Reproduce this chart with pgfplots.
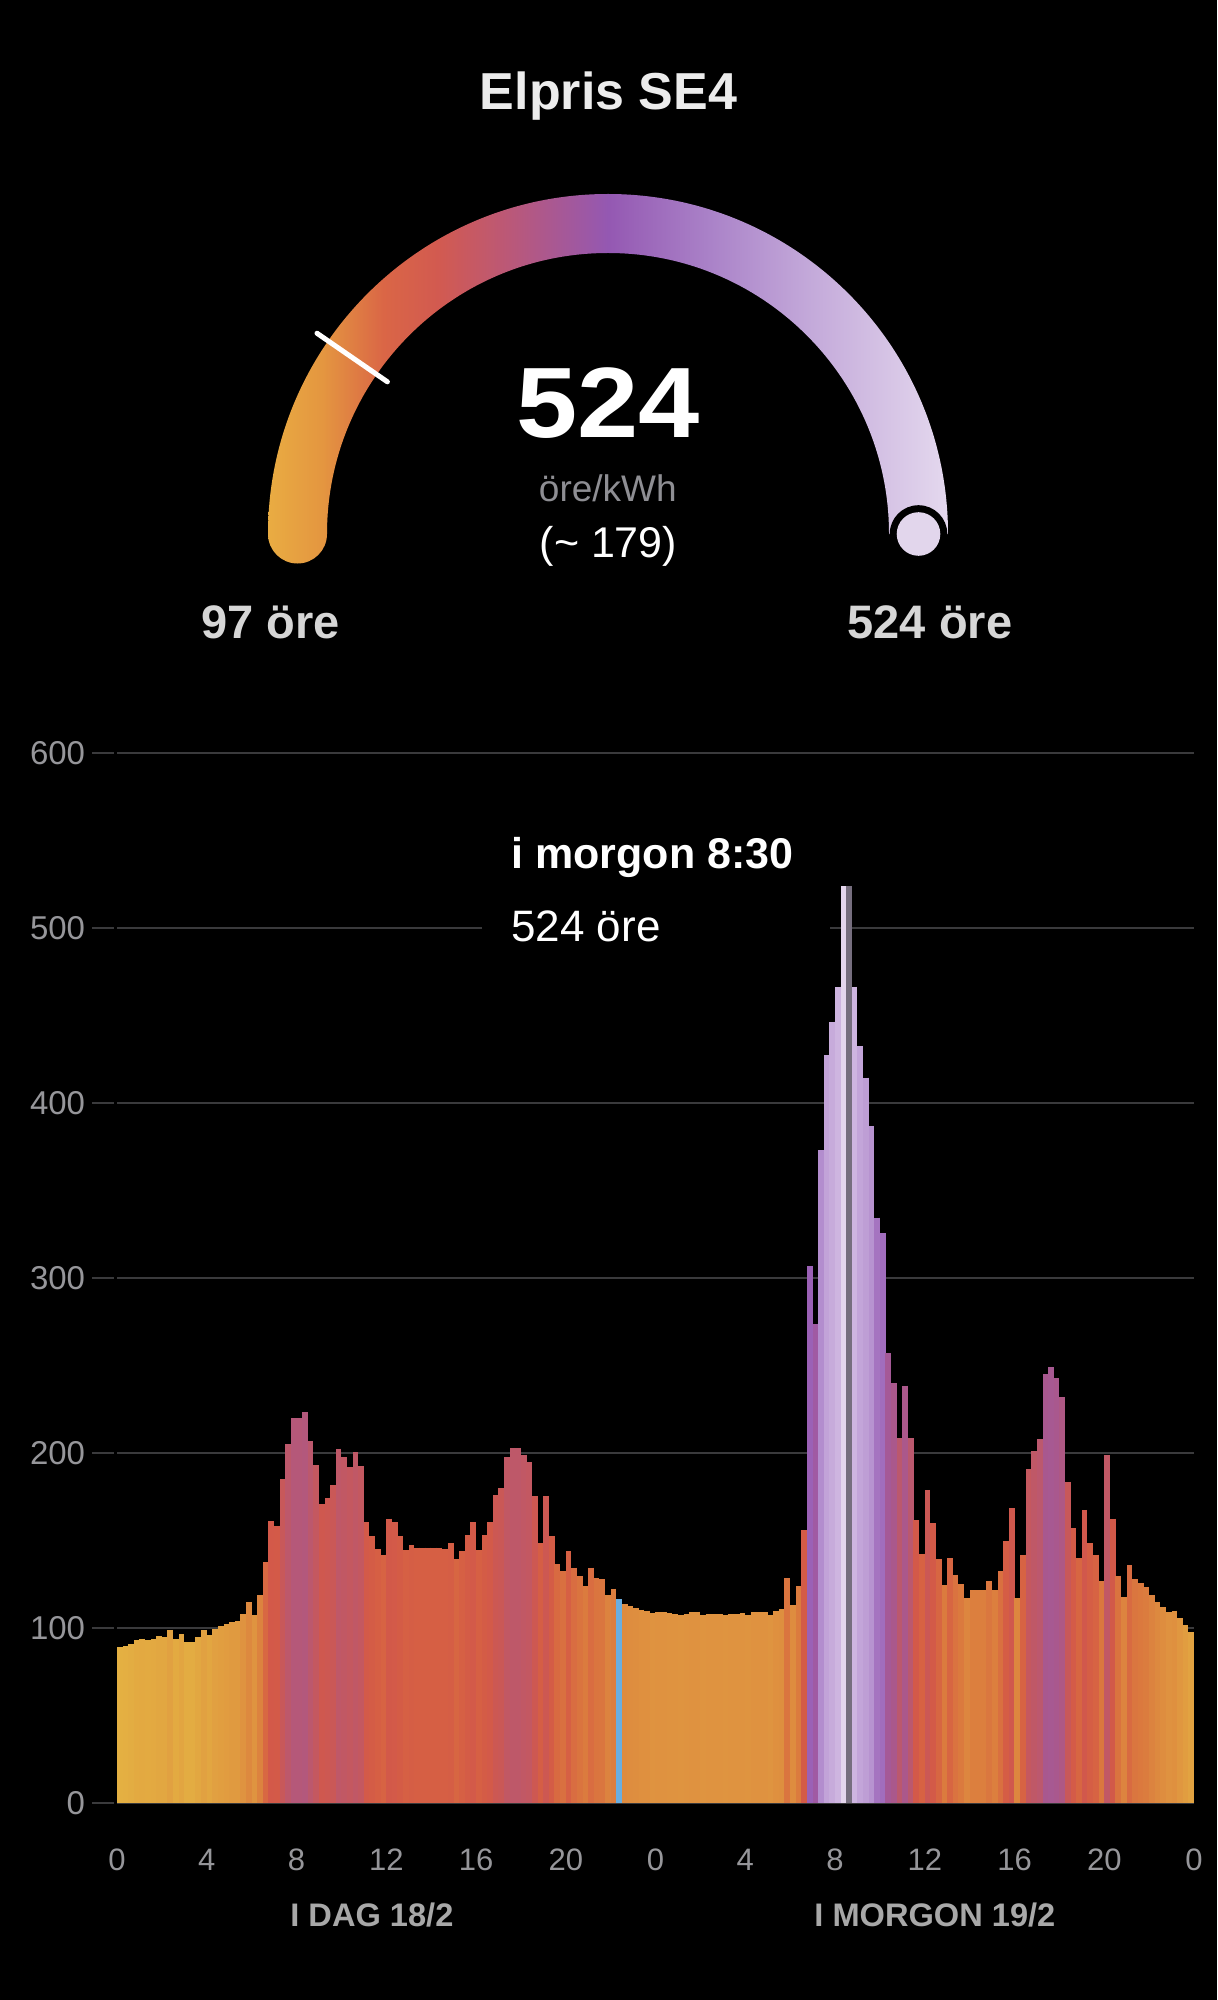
\documentclass[border=0pt]{standalone}
\usepackage{pgfplots}
\pgfplotsset{compat=1.18}
\usepackage{pgfplotstable}
\usepackage{graphicx}
\usepackage{fontspec}
\setmainfont{Liberation Sans}

\definecolor{gridc}{RGB}{58,58,60}
\definecolor{labgrey}{RGB}{150,150,154}
\definecolor{titlec}{RGB}{236,236,236}
\definecolor{unitc}{RGB}{142,142,147}
\definecolor{minmaxc}{RGB}{214,214,214}
\definecolor{daylab}{RGB}{168,168,168}
\definecolor{nowblue}{RGB}{106,174,224}
\definecolor{selgrey}{RGB}{118,110,126}
\definecolor{knobc}{RGB}{226,214,236}
\definecolor{gA}{RGB}{233,172,66}
\definecolor{gB}{RGB}{228,150,64}
\definecolor{gC}{RGB}{218,102,70}
\definecolor{gD}{RGB}{210,90,80}
\definecolor{gE}{RGB}{185,88,122}
\definecolor{gF}{RGB}{148,88,178}
\definecolor{gG}{RGB}{170,130,200}
\definecolor{gH}{RGB}{196,170,218}
\definecolor{gI}{RGB}{228,216,238}
% TikZ maps the path's bounding box onto 25bp..75bp of the shading
\pgfdeclarehorizontalshading{gauge}{100bp}{color(0bp)=(gA); color(25bp)=(gA); color(29bp)=(gB); color(33.5bp)=(gC); color(37.5bp)=(gD); color(43bp)=(gE); color(50bp)=(gF); color(57.5bp)=(gG); color(65bp)=(gH); color(75bp)=(gI); color(100bp)=(gI)}

% quarter-hour prices, ore/kWh; t = hour (bar centre), 0-24 = 18/2, 24-48 = 19/2
\pgfplotstableread[row sep=\\]{
t p\\
0.125 89\\ 0.375 90\\ 0.625 91\\ 0.875 93\\ 1.125 94\\ 1.375 93\\ 1.625 94\\ 1.875 95.5\\
2.125 95\\ 2.375 99\\ 2.625 93.5\\ 2.875 96.5\\ 3.125 92\\ 3.375 92\\ 3.625 95\\ 3.875 99\\
4.125 96\\ 4.375 99.5\\ 4.625 101\\ 4.875 102.5\\ 5.125 103.5\\ 5.375 104\\ 5.625 108\\ 5.875 115\\
6.125 107.5\\ 6.375 119\\ 6.625 138\\ 6.875 161\\ 7.125 158.5\\ 7.375 185\\ 7.625 205\\ 7.875 220\\
8.125 220\\ 8.375 223.5\\ 8.625 207\\ 8.875 193\\ 9.125 171\\ 9.375 174.5\\ 9.625 181.5\\ 9.875 202.5\\
10.125 197.5\\ 10.375 192\\ 10.625 200.5\\ 10.875 192.5\\ 11.125 160.5\\ 11.375 152.5\\ 11.625 145\\ 11.875 142\\
12.125 162.5\\ 12.375 160.5\\ 12.625 152.5\\ 12.875 144.5\\ 13.125 147.5\\ 13.375 146\\ 13.625 146\\ 13.875 146\\
14.125 146\\ 14.375 146\\ 14.625 145\\ 14.875 148.5\\ 15.125 139.5\\ 15.375 144\\ 15.625 153\\ 15.875 160.5\\
16.125 144.5\\ 16.375 153\\ 16.625 160.5\\ 16.875 176\\ 17.125 180\\ 17.375 197.5\\ 17.625 203\\ 17.875 203\\
18.125 199\\ 18.375 195\\ 18.625 175.5\\ 18.875 148.5\\ 19.125 175.5\\ 19.375 152.5\\ 19.625 136.5\\ 19.875 132.5\\
20.125 144\\ 20.375 134.5\\ 20.625 129.5\\ 20.875 124\\ 21.125 134.5\\ 21.375 128.5\\ 21.625 128\\ 21.875 119\\
22.125 122.5\\ 22.375 116.5\\ 22.625 113.5\\ 22.875 112.5\\ 23.125 111.5\\ 23.375 110.5\\ 23.625 110\\ 23.875 108.5\\
24.125 109\\ 24.375 109\\ 24.625 108.5\\ 24.875 108\\ 25.125 107.5\\ 25.375 108\\ 25.625 109\\ 25.875 109.3\\
26.125 107.5\\ 26.375 108\\ 26.625 108\\ 26.875 108\\ 27.125 107.5\\ 27.375 108\\ 27.625 108\\ 27.875 108.5\\
28.125 107.5\\ 28.375 109\\ 28.625 109\\ 28.875 109\\ 29.125 107.5\\ 29.375 110\\ 29.625 111\\ 29.875 128.5\\
30.125 113\\ 30.375 124\\ 30.625 156\\ 30.875 307\\ 31.125 274\\ 31.375 373\\ 31.625 427.5\\ 31.875 446.5\\
32.125 466.5\\ 32.375 524\\ 32.625 524\\ 32.875 466.5\\ 33.125 432.5\\ 33.375 414.5\\ 33.625 387\\ 33.875 334.5\\
34.125 325.5\\ 34.375 257\\ 34.625 240\\ 34.875 208.5\\ 35.125 238.5\\ 35.375 208.5\\ 35.625 161.5\\ 35.875 142.5\\
36.125 179\\ 36.375 160\\ 36.625 139.5\\ 36.875 124.5\\ 37.125 140\\ 37.375 130.5\\ 37.625 125\\ 37.875 117\\
38.125 121.5\\ 38.375 121.5\\ 38.625 121.5\\ 38.875 127\\ 39.125 121.5\\ 39.375 132.5\\ 39.625 150\\ 39.875 168.5\\
40.125 117\\ 40.375 142\\ 40.625 191\\ 40.875 201\\ 41.125 208\\ 41.375 245\\ 41.625 249\\ 41.875 243\\
42.125 232\\ 42.375 183.5\\ 42.625 157\\ 42.875 140\\ 43.125 167.5\\ 43.375 148.5\\ 43.625 142\\ 43.875 127\\
44.125 199\\ 44.375 162.5\\ 44.625 130\\ 44.875 118\\ 45.125 136\\ 45.375 128\\ 45.625 125.5\\ 45.875 123.5\\
46.125 119\\ 46.375 115\\ 46.625 112\\ 46.875 109\\ 47.125 110\\ 47.375 105.5\\ 47.625 101.5\\ 47.875 97.5\\
}\prices

\begin{document}
\begin{tikzpicture}
\path[use as bounding box] (0pt,0pt) rectangle (608.5pt,-1000pt);
\fill[black] (0pt,0pt) rectangle (608.5pt,-1000pt);

% title
\node[anchor=base, text=titlec, font=\fontsize{26}{26}\selectfont\bfseries] at (304.25pt,-54.9pt) {Elpris SE4};

% gauge
\begin{scope}[shift={(304pt,-267pt)}]
\shade[shading=gauge] (-170pt,0pt) arc[start angle=180, end angle=0, radius=170pt]
  -- (140.5pt,0pt)
  arc[start angle=0, end angle=180, radius=140.5pt]
  arc[start angle=0, end angle=-180, radius=14.75pt] -- cycle;
\fill[black] (155.25pt,0pt) circle[radius=14.4pt];
\fill[knobc] (155.25pt,0pt) circle[radius=10.9pt];
\draw[white, line width=2.5pt, line cap=round] (145.4:134pt) -- (145.4:176.8pt);
\end{scope}
\node[anchor=base, white, font=\fontsize{50}{50}\selectfont\bfseries] at (303.9pt,-218.8pt) {\scalebox{1.1}[1]{524}};
\node[anchor=base, text=unitc, font=\fontsize{18.5}{18.5}\selectfont] at (303.9pt,-250.6pt) {öre/kWh};
\node[anchor=base, white, font=\fontsize{21.5}{21.5}\selectfont] at (304.2pt,-278.7pt) {(\textasciitilde\ 179)};
\node[anchor=base, text=minmaxc, font=\fontsize{23.5}{23.5}\selectfont\bfseries] at (135.25pt,-319pt) {97 öre};
\node[anchor=base, text=minmaxc, font=\fontsize{23.5}{23.5}\selectfont\bfseries] at (465pt,-319pt) {524 öre};

\begin{axis}[
  at={(58.5pt,-901.5pt)}, anchor=south west,
  scale only axis, width=538.5pt, height=525pt,
  xmin=0, xmax=48, ymin=0, ymax=600,
  axis line style={draw=none},
  ymajorgrids, major grid style={gridc, line width=1pt},
  tick align=outside, major tick length=11pt,
  xtick pos=bottom, ytick pos=left,
  xtick={0,4,...,48}, xticklabels={0,4,8,12,16,20,0,4,8,12,16,20,0},
  ytick={0,100,...,600},
  xtick style={draw=none}, ytick style={gridc, line width=1pt, xshift=-1.5pt},
  /pgf/number format/assume math mode=true,
  yticklabel style={font=\fontsize{16.5}{16.5}\selectfont, text=labgrey, anchor=east, inner sep=0pt, xshift=-4.75pt},
  xticklabel style={font=\fontsize{15.5}{15.5}\selectfont, text=labgrey, anchor=center, inner sep=0pt, yshift=-17.5pt},
  colormap={elpris}{rgb255(88)=(228,178,66) rgb255(105)=(224,152,64) rgb255(125)=(219,122,62) rgb255(145)=(214,95,68) rgb255(165)=(210,88,74) rgb255(200)=(192,88,102) rgb255(240)=(170,88,140) rgb255(300)=(152,92,180) rgb255(370)=(178,140,205) rgb255(450)=(200,172,220) rgb255(524)=(228,214,237)},
  point meta min=88, point meta max=524,
]
\addplot[point meta=y, quiver={u=0, v=-\thisrow{p}, colored}, line width=2.85pt] table[x=t, y=p] {\prices};
\addplot[ycomb, draw=nowblue, line width=2.85pt] coordinates {(22.375,116.5)};
\addplot[ycomb, draw=selgrey, line width=2.9pt] coordinates {(32.625,524)};
\end{axis}

% tooltip
\fill[black] (241pt,-407.5pt) rectangle (415pt,-482.5pt);
\node[anchor=base west, white, inner sep=0pt, font=\fontsize{21.5}{21.5}\selectfont\bfseries] at (255.5pt,-434pt) {i morgon 8:30};
\node[anchor=base west, white, inner sep=0pt, font=\fontsize{22}{22}\selectfont] at (255.5pt,-470.5pt) {524 öre};

% day labels
\node[anchor=base west, text=daylab, inner sep=0pt, font=\fontsize{16.3}{16.3}\selectfont\bfseries] at (145pt,-963pt) {I DAG 18/2};
\node[anchor=base west, text=daylab, inner sep=0pt, font=\fontsize{16.3}{16.3}\selectfont\bfseries] at (407pt,-963pt) {I MORGON 19/2};
\end{tikzpicture}
\end{document}
